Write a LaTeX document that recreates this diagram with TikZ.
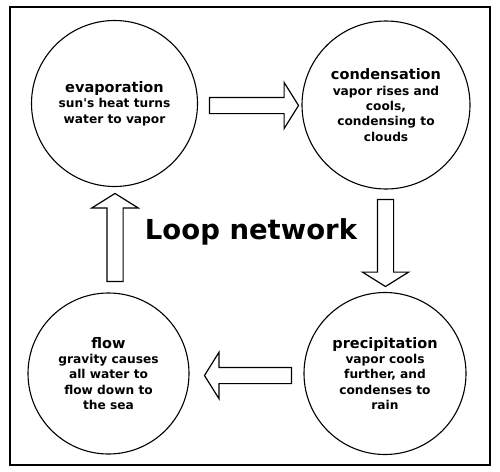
\documentclass[tikz,border=0pt]{standalone}
\usepackage{fontspec}
\setmainfont{DejaVu Sans}
\usetikzlibrary{shapes.arrows}

\begin{document}
\begin{tikzpicture}[x=1pt, y=-1pt,
    main/.style = {draw, circle, line width=1.1pt, align=center, inner sep=0pt,
        font=\bfseries\fontsize{12.2}{15.3}\selectfont},
    flowarrow/.style = {draw, single arrow, line width=1.2pt, inner xsep=0pt, inner ysep=7.5pt,
        outer sep=0pt, single arrow head extend=15pt, single arrow tip angle=116}]
            \useasboundingbox (0,0) rectangle (500,471);
            \draw[line width=1.2pt] (10,7) rectangle (490,465);

            \node[main,minimum size=166pt] (1) at (114.5,103.5) {{\fontsize{14.5}{16}\selectfont evaporation}\\sun\textquotesingle s heat turns\\water to vapor};
            \node[main,minimum size=168pt] (2) at (386,105) {{\fontsize{14.5}{16}\selectfont condensation}\\vapor rises and\\cools,\\condensing to\\clouds};
            \node[main,minimum size=162pt] (3) at (385,373.5) {{\fontsize{14.5}{16}\selectfont precipitation}\\vapor cools\\further, and\\condenses to\\rain};
            \node[main,minimum size=161pt] (4) at (108.5,373.5) {{\fontsize{14.5}{16}\selectfont flow}\\gravity causes\\all water to\\flow down to\\the sea};

            \node[flowarrow,minimum height=89pt] (5) at (251.5,105.5) {};
            \node[flowarrow,minimum height=87pt,rotate=-90] (6) at (385.5,240.5) {};
            \node[flowarrow,minimum height=87pt,rotate=180] (7) at (250.5,375.5) {};
            \node[flowarrow,minimum height=88pt,rotate=90] (8) at (115,240) {};

            \node[anchor=base,font=\bfseries\fontsize{27.5}{30}\selectfont] (9) at (251,239) {Loop network};

        \end{tikzpicture}
\end{document}
